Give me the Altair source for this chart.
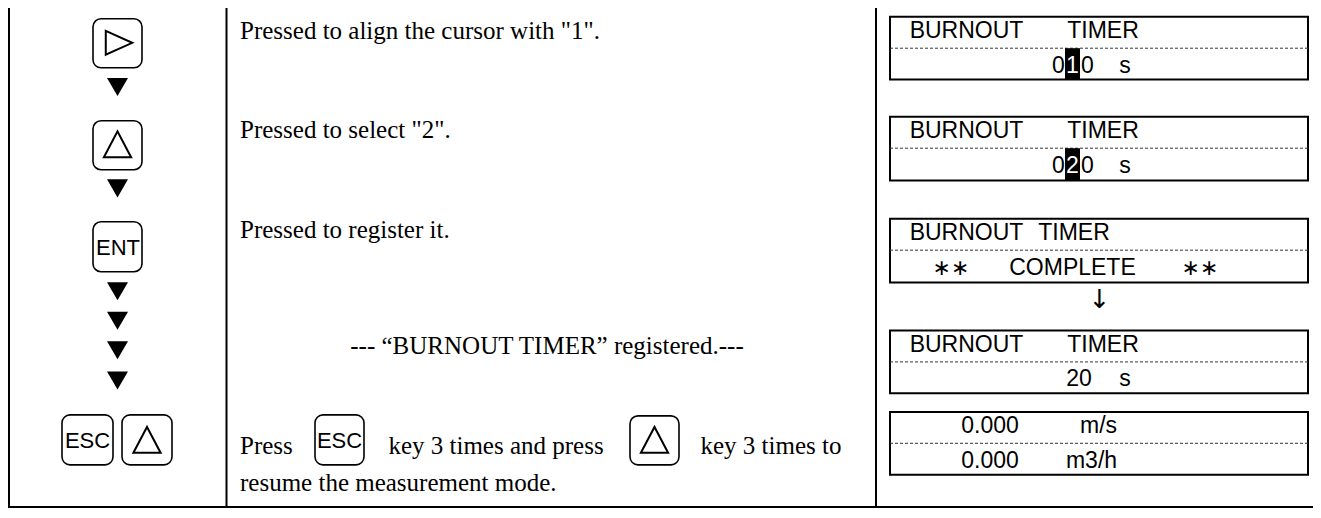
import altair as alt
import pandas as pd

# ---------------- layout frame (reference pixel coordinates) ----------------
W, H = 1305, 500
X_DOMAIN = [8, 1313]
Y_DOMAIN = [7, 517]

# table rules
rule_x = [9, 226.5, 876, 9]
rule_x2 = [9, 226.5, 876, 1313]
rule_y = [7, 7, 7, 516]
rule_y2 = [517, 517, 517, 516]

# key buttons (rounded)
btn_x = [93, 93, 93, 62, 122, 315, 630]
btn_x2 = [142, 142, 142, 113, 172, 364, 679]
btn_y = [18, 122, 225, 422, 422, 422, 423]
btn_y2 = [68, 172, 276, 473, 473, 473, 473]

# hollow glyphs on buttons
right_tri_x = [119]
right_tri_y = [42.5]
up_tri_x = [117.5, 147, 654.5]
up_tri_y = [146, 447.5, 447.5]

# flow arrows
down_x = [117.5, 117.5, 117.5, 117.5, 117.5, 117.5]
down_y = [87.5, 191, 296, 326, 356, 387]

# button labels (centred on their key)
key_labels = ["ENT", "ESC", "ESC"]
key_label_x = [118, 87.5, 339.5]
key_label_y = [259, 456, 456]

# description texts (left-aligned)
desc_texts = [
    'Pressed to align the cursor with "1".',
    'Pressed to select "2".',
    "Pressed to register it.",
    "Press",
    "resume the measurement mode.",
]
desc_x = [240, 240, 240, 240, 240]
desc_y = [39, 140, 242, 462, 500]

# description texts (centered)
desc_c_texts = ["--- \u201cBURNOUT TIMER\u201d registered.---", "key 3 times and press", "key 3 times to"]
desc_c_x = [547, 496, 771]
desc_c_y = [360, 462, 462]

# LCD displays
lcd_top = [16, 118, 222, 336, 419]
lcd_bottom = [80, 183, 287, 400, 483]
lcd_left, lcd_right = 890, 1308

lcd_words = ["BURNOUT", "TIMER", "0", "0", "s",
             "BURNOUT", "TIMER", "0", "0", "s",
             "BURNOUT", "TIMER", "COMPLETE",
             "BURNOUT", "TIMER", "20", "s",
             "0.000", "m/s", "0.000", "m3/h"]
lcd_word_x = [966.5, 1103, 1058.5, 1087.5, 1125,
              966.5, 1103, 1058.5, 1087.5, 1125,
              966.5, 1074, 1072.5,
              966.5, 1103, 1079, 1125,
              990, 1098.5, 990, 1091.5]
lcd_word_box = [0, 0, 0, 0, 0,
                1, 1, 1, 1, 1,
                2, 2, 2,
                3, 3, 3, 3,
                4, 4, 4, 4]
lcd_word_line = [1, 1, 2, 2, 2,
                 1, 1, 2, 2, 2,
                 1, 1, 2,
                 1, 1, 2, 2,
                 1, 1, 2, 2]

star_texts = ["\u2217\u2217", "\u2217\u2217"]
star_x = [951, 1200]
star_box = [2, 2]

cursor_digits = ["1", "2"]
cursor_x = [1065, 1065]
cursor_x2 = [1080, 1080]
cursor_box = [0, 1]

arrow_text = ["\u2193"]
arrow_x = [1099.5]
arrow_y = [305]

LINE1, LINE2, DASH = 22, 57, 32

# ---------------- build tables ----------------
xs = alt.Scale(domain=X_DOMAIN, nice=False, zero=False)
ys = alt.Scale(domain=Y_DOMAIN, nice=False, zero=False, reverse=True)


def X(f="x"):
    return alt.X(f"{f}:Q", scale=xs, axis=None)


def Y(f="y"):
    return alt.Y(f"{f}:Q", scale=ys, axis=None)


rules = pd.DataFrame({"x": rule_x, "x2": rule_x2, "y": rule_y, "y2": rule_y2})
btns = pd.DataFrame({"x": btn_x, "x2": btn_x2, "y": btn_y, "y2": btn_y2})
rtri = pd.DataFrame({"x": right_tri_x, "y": right_tri_y})
utri = pd.DataFrame({"x": up_tri_x, "y": up_tri_y})
dtri = pd.DataFrame({"x": down_x, "y": down_y})
klab = pd.DataFrame({"t": key_labels, "x": key_label_x, "y": key_label_y})
desc = pd.DataFrame({"t": desc_texts, "x": desc_x, "y": desc_y})
descc = pd.DataFrame({"t": desc_c_texts, "x": desc_c_x, "y": desc_c_y})

lcd = pd.DataFrame({"x": [lcd_left] * 5, "x2": [lcd_right] * 5, "y": lcd_top, "y2": lcd_bottom})
dash = pd.DataFrame({"x": [lcd_left] * 5, "x2": [lcd_right] * 5,
                     "y": [t + DASH for t in lcd_top]})
words = pd.DataFrame({
    "t": lcd_words,
    "x": lcd_word_x,
    "y": [lcd_top[b] + (LINE1 if ln == 1 else LINE2) for b, ln in zip(lcd_word_box, lcd_word_line)],
})
stars = pd.DataFrame({"t": star_texts, "x": star_x, "y": [lcd_top[b] + LINE2 for b in star_box]})
cur = pd.DataFrame({
    "t": cursor_digits,
    "x": cursor_x,
    "x2": cursor_x2,
    "xc": [(a + b) / 2 for a, b in zip(cursor_x, cursor_x2)],
    "y": [lcd_top[b] + DASH for b in cursor_box],
    "y2": [lcd_bottom[b] for b in cursor_box],
    "yt": [lcd_top[b] + LINE2 for b in cursor_box],
})
arr = pd.DataFrame({"t": arrow_text, "x": arrow_x, "y": arrow_y})

SERIF = "Liberation Serif, Times New Roman, serif"
SANS = "Liberation Sans, Arial, sans-serif"

rule_layer = alt.Chart(rules).mark_rule(color="black", strokeWidth=2).encode(
    x=X(), x2="x2:Q", y=Y(), y2="y2:Q")

lcd_layer = alt.Chart(lcd).mark_rect(fill="white", stroke="black", strokeWidth=2).encode(
    x=X(), x2="x2:Q", y=Y(), y2="y2:Q")

dash_layer = alt.Chart(dash).mark_rule(color="#333333", strokeWidth=1, strokeDash=[3, 2]).encode(
    x=X(), x2="x2:Q", y=Y())

cur_rect = alt.Chart(cur).mark_rect(fill="black").encode(
    x=X(), x2="x2:Q", y=Y(), y2="y2:Q")

word_layer = alt.Chart(words).mark_text(
    font=SANS, fontSize=23, align="center", baseline="alphabetic", color="black").encode(
    x=X(), y=Y(), text="t:N")

star_layer = alt.Chart(stars).mark_text(
    font="DejaVu Sans", fontSize=22, align="center", baseline="alphabetic", color="black").encode(
    x=X(), y=Y(), text="t:N")

cur_text = alt.Chart(cur).mark_text(
    font=SANS, fontSize=23, align="center", baseline="alphabetic", color="white").encode(
    x=X("xc"), y=Y("yt"), text="t:N")

arrow_layer = alt.Chart(arr).mark_text(
    font="DejaVu Sans", fontSize=26, align="center", baseline="middle", color="black").encode(
    x=X(), y=Y(), text="t:N")

btn_layer = alt.Chart(btns).mark_rect(
    fill="white", stroke="black", strokeWidth=1.6, cornerRadius=8).encode(
    x=X(), x2="x2:Q", y=Y(), y2="y2:Q")

rtri_layer = alt.Chart(rtri).mark_point(
    shape="M -1 -0.9 L 1 0 L -1 0.9 Z", size=700, filled=False, color="black",
    strokeWidth=2, opacity=1).encode(x=X(), y=Y())

utri_layer = alt.Chart(utri).mark_point(
    shape="M -1 0.95 L 0 -0.95 L 1 0.95 Z", size=740, filled=False, color="black",
    strokeWidth=2, opacity=1).encode(x=X(), y=Y())

dtri_layer = alt.Chart(dtri).mark_point(
    shape="M -1 -0.86 L 1 -0.86 L 0 0.86 Z", size=441, filled=True, color="black",
    strokeWidth=0, opacity=1).encode(x=X(), y=Y())

klab_layer = alt.Chart(klab).mark_text(
    font=SANS, fontSize=22, align="center", baseline="alphabetic", color="black").encode(
    x=X(), y=Y(), text="t:N")

desc_layer = alt.Chart(desc).mark_text(
    font=SERIF, fontSize=25, align="left", baseline="alphabetic", color="black").encode(
    x=X(), y=Y(), text="t:N")

descc_layer = alt.Chart(descc).mark_text(
    font=SERIF, fontSize=25, align="center", baseline="alphabetic", color="black").encode(
    x=X(), y=Y(), text="t:N")

chart = alt.layer(
    rule_layer, lcd_layer, dash_layer, cur_rect, word_layer, star_layer, cur_text,
    arrow_layer, btn_layer, rtri_layer, utri_layer, dtri_layer, klab_layer,
    desc_layer, descc_layer,
).properties(
    width=W, height=H, padding=0, autosize="none", background="white"
).configure_view(stroke=None)

chart.save("out.html", embed_options={"renderer": "svg", "actions": False})
